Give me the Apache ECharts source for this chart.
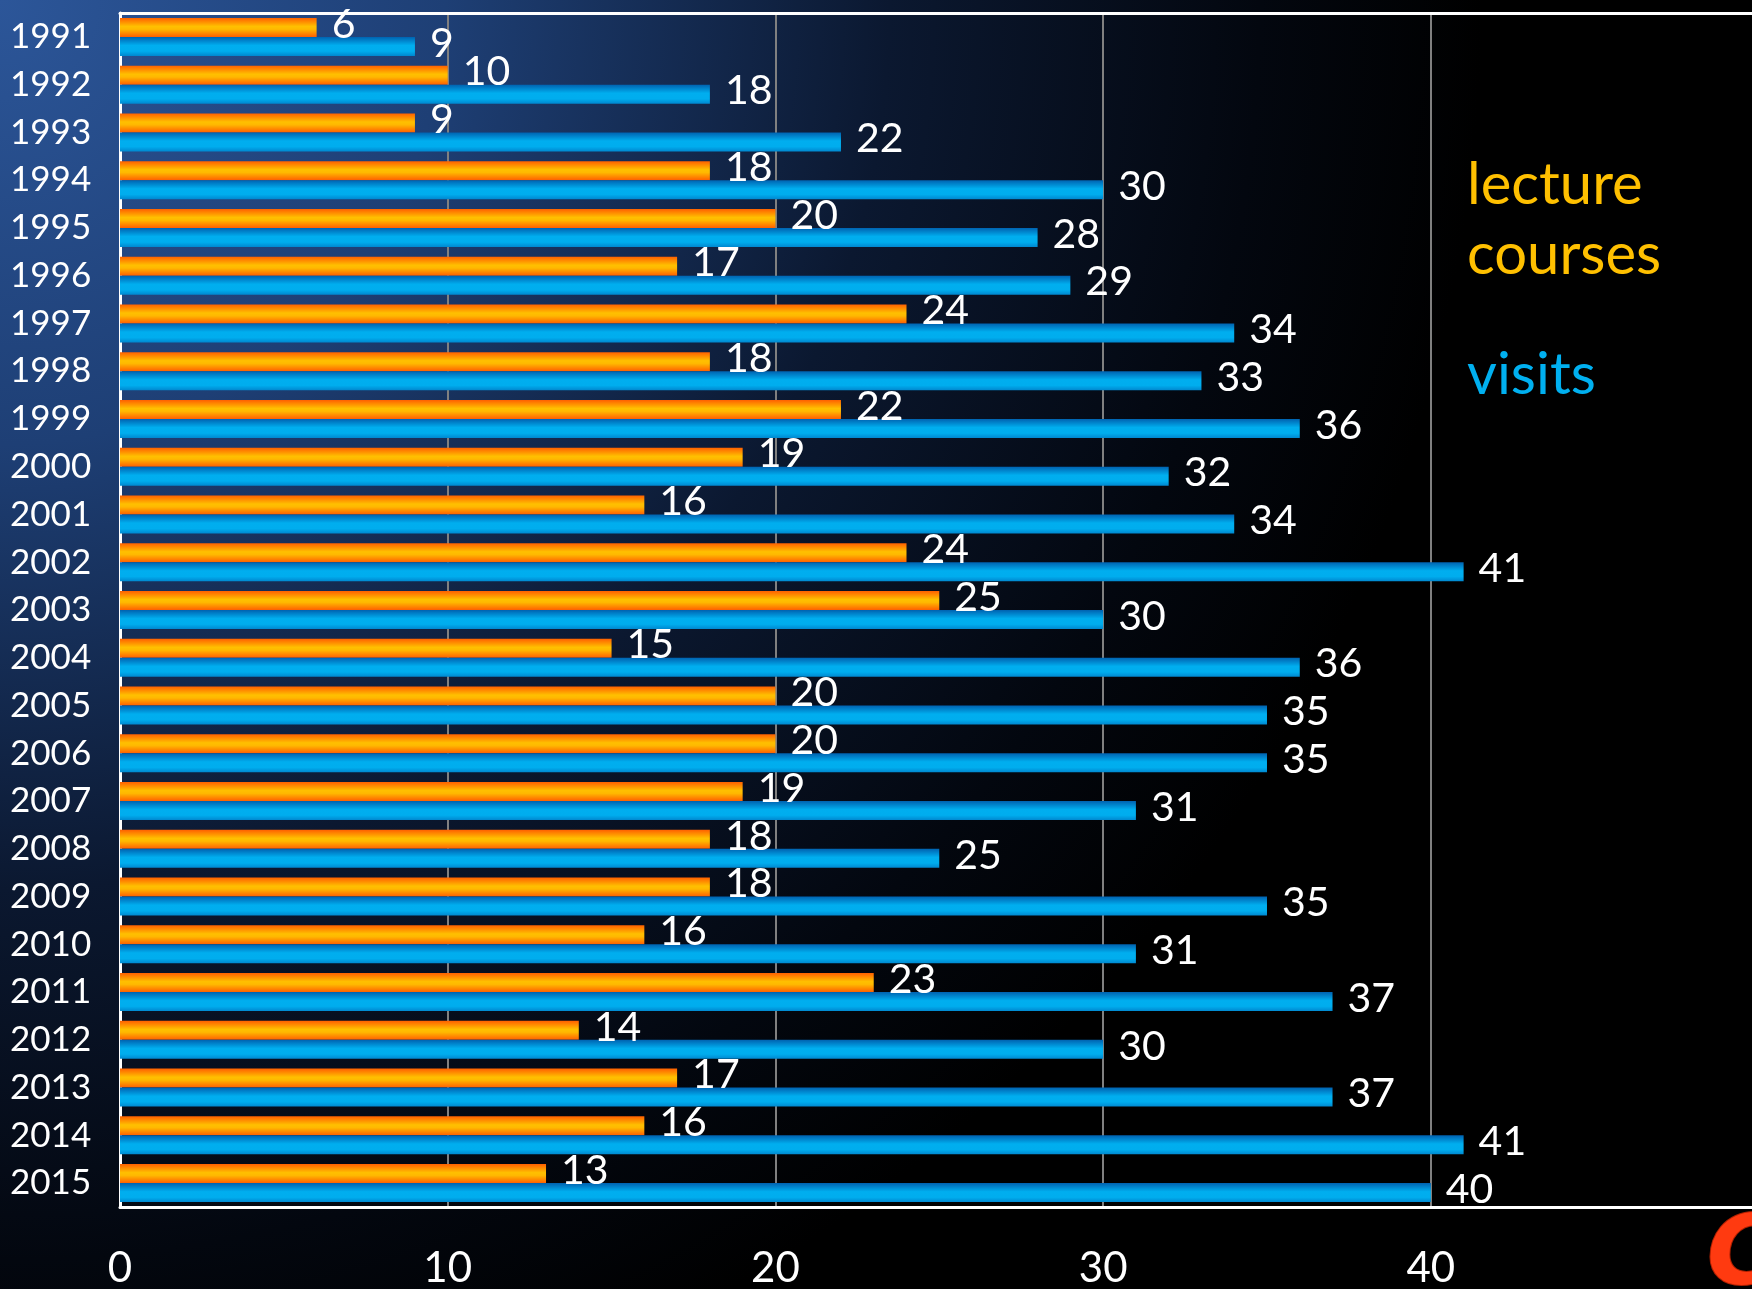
<!DOCTYPE html>
<html>
<head>
<meta charset="utf-8">
<script src="https://cdn.jsdelivr.net/npm/echarts@6/dist/echarts.min.js"></script>
<style>
html,body{margin:0;padding:0;background:#000;}
#chart{width:1752px;height:1289px;}
</style>
</head>
<body>
<div id="chart"></div>
<script>
const years = ['1991','1992','1993','1994','1995','1996','1997','1998','1999','2000','2001','2002','2003','2004','2005','2006','2007','2008','2009','2010','2011','2012','2013','2014','2015'];
const lectureCourses = [6,10,9,18,20,17,24,18,22,19,16,24,25,15,20,20,19,18,18,16,23,14,17,16,13];
const visits = [9,18,22,30,28,29,34,33,36,32,34,41,30,36,35,35,31,25,35,31,37,30,37,41,40];
const xTicks = [0,10,20,30,40];

const FONT = 'Lato, "Open Sans", sans-serif';
const chart = echarts.init(document.getElementById('chart'));

const orangeGrad = new echarts.graphic.LinearGradient(0,0,0,1,[
  {offset:0,color:'#FF6000'},{offset:0.45,color:'#FFC000'},{offset:0.6,color:'#FFB800'},{offset:1,color:'#FF6000'}]);
const blueGrad = new echarts.graphic.LinearGradient(0,0,0,1,[
  {offset:0,color:'#0062B0'},{offset:0.45,color:'#00AEEF'},{offset:0.75,color:'#00ADEE'},{offset:1,color:'#0088D0'}]);

const labelStyle = {show:true, position:'right', distance:15, offset:[0,-3], color:'#FFFFFF', fontSize:41, fontFamily:FONT};

chart.setOption({
  backgroundColor: new echarts.graphic.RadialGradient(0,0,1.15,[
    {offset:0,color:'#2C5699'},{offset:0.3,color:'#1E3F75'},{offset:0.6,color:'#0B1830'},{offset:0.85,color:'#03070F'},{offset:1,color:'#000000'}]),
  animation:false,
  grid:{left:120, top:13, right:0, bottom:82, containLabel:false},
  xAxis:[{
    type:'value', min:0, max:49.8, interval:10, position:'bottom',
    axisLine:{show:true, lineStyle:{color:'#FFFFFF', width:3}},
    axisTick:{show:false},
    splitLine:{show:true, showMinLine:false, showMaxLine:false, lineStyle:{color:'#808080', width:2}},
    axisLabel:{color:'#FFFFFF', fontSize:42, fontFamily:FONT, margin:40, showMaxLabel:false,
      formatter:function(v){return xTicks.indexOf(v)>=0 ? String(v) : '';}}
  },{
    type:'value', min:0, max:49.8, interval:10, position:'top',
    axisLine:{show:true, lineStyle:{color:'#FFFFFF', width:3}},
    axisTick:{show:false}, axisLabel:{show:false}, splitLine:{show:false}
  }],
  yAxis:{
    type:'category', data:years, inverse:true,
    axisLine:{show:true, lineStyle:{color:'#FFFFFF', width:3}},
    axisTick:{show:false},
    splitLine:{show:false},
    axisLabel:{color:'#FFFFFF', fontSize:35, fontFamily:FONT, align:'left', margin:110}
  },
  series:[
    {name:'lecture courses', type:'bar', data:lectureCourses, barWidth:19, barGap:'0%',
     itemStyle:{color:orangeGrad}, label:labelStyle},
    {name:'visits', type:'bar', data:visits, barWidth:19, barGap:'0%',
     itemStyle:{color:blueGrad}, label:labelStyle}
  ],
  graphic:[
    {type:'text', left:1467, top:150, style:{text:'lecture\ncourses', fill:'#FFC000', fontSize:58, fontFamily:FONT, lineHeight:70}},
    {type:'text', left:1467, top:346, style:{text:'visits', fill:'#00B0F0', fontSize:58, fontFamily:FONT}},
    {type:'text', left:1706, top:1210, style:{text:'C', fill:'#FF3A10', fontSize:96, fontWeight:'bold', fontStyle:'italic', fontFamily:'"DejaVu Sans", sans-serif', stroke:'#B02000', lineWidth:2}}
  ]
});
</script>
</body>
</html>
